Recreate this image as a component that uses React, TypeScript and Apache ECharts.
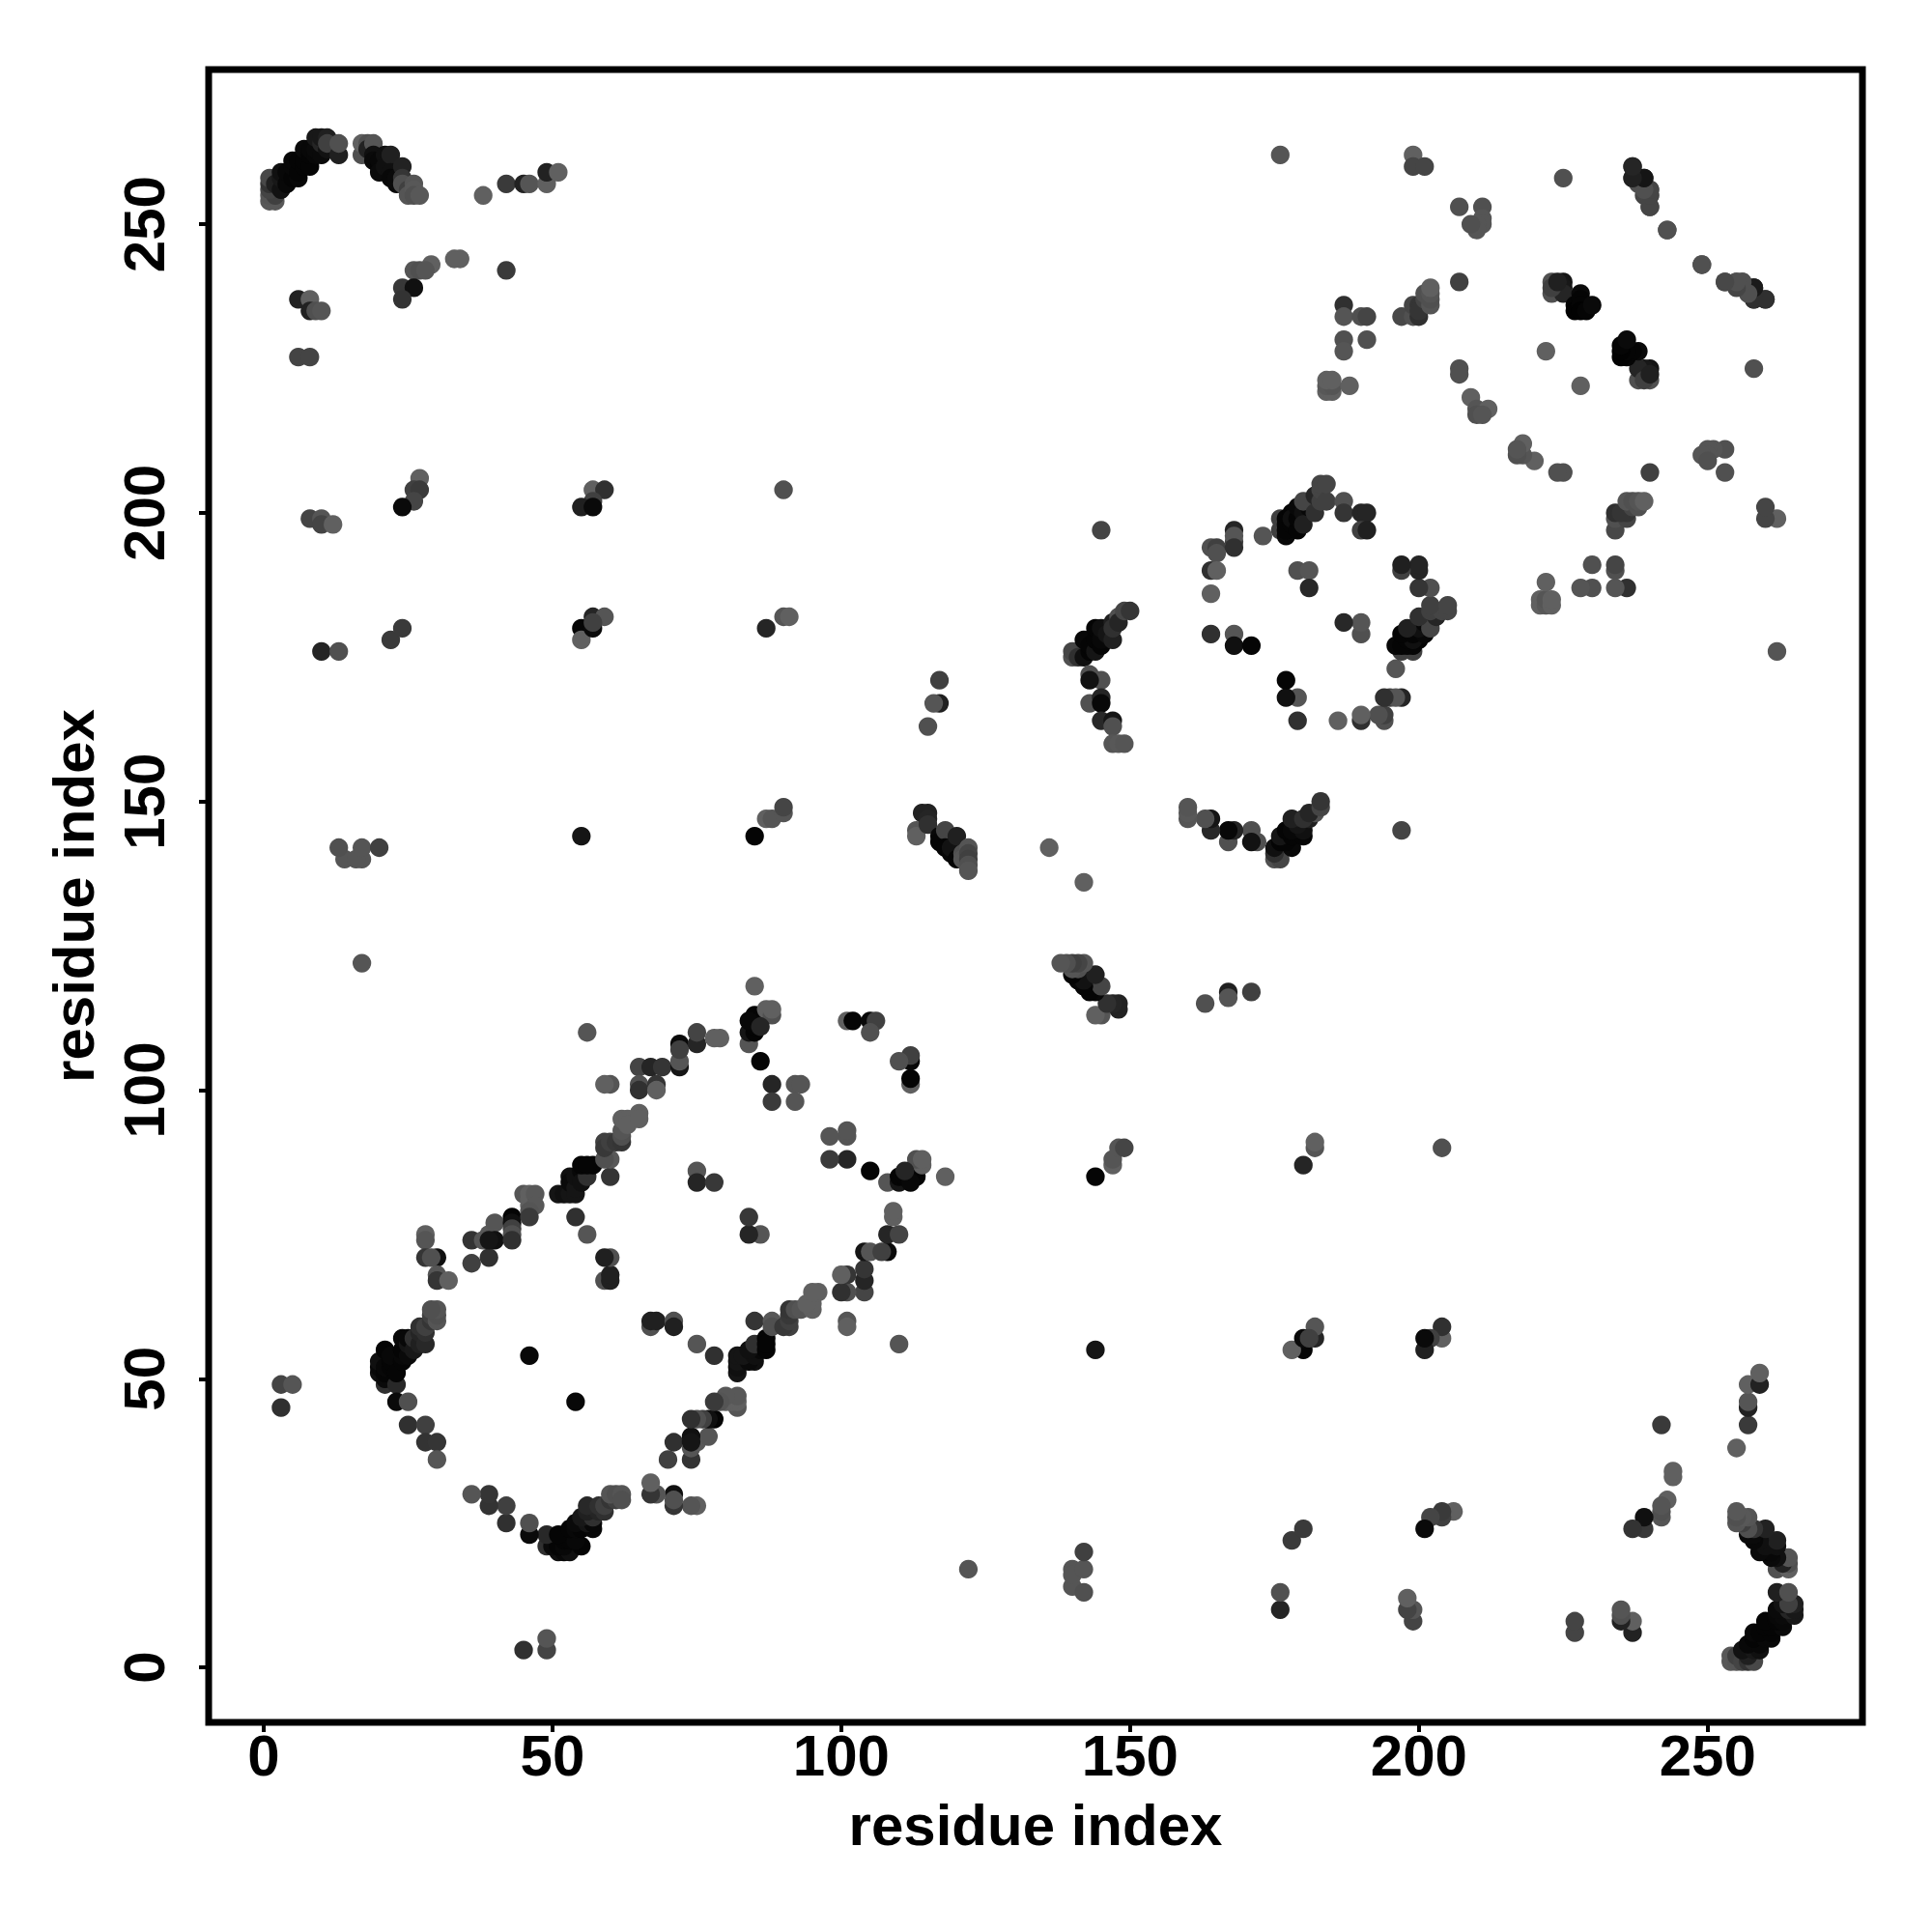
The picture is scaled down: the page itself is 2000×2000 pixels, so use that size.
import React, { useEffect, useRef } from "react";
import * as echarts from "echarts";

// Each contact: [residue i, residue j, grey level (0 = black, 0x66 = lightest)]
const terminalArcStart = [
  [1,254,0x58],[2,254,0x58],[1,255,0x55],[2,255,0x40],[1,256,0x44],[1,257,0x33],[1,258,0x48],[2,257,0x20],
  [3,256,0x12],[3,258,0x18],[3,259,0x10],[4,257,0x08],[4,259,0x08],[5,258,0x05],[5,260,0x08],[5,261,0x08],
  [6,258,0x08],[6,259,0x05],[6,261,0x05],[7,260,0x05],[7,261,0x05],[7,263,0x0a],[8,260,0x05],
  [8,262,0x05],[8,263,0x08],[9,262,0x08],[9,263,0x0a],[9,265,0x18],[10,262,0x0a],
  [10,264,0x25],[10,265,0x18],[11,263,0x12],[11,265,0x20],[11,264,0x40],[13,262,0x20],[13,264,0x50],
];
const terminalArcEnd = [
  [17,262,0x50],[17,264,0x60],[18,264,0x50],[18,263,0x22],[19,264,0x55],[19,262,0x10],[19,261,0x0a],[20,260,0x05],
  [20,261,0x08],[20,259,0x0a],[21,262,0x10],[21,260,0x10],[22,262,0x20],[22,259,0x10],[22,258,0x08],[23,257,0x0a],
  [23,258,0x0a],[24,260,0x22],[24,258,0x35],[24,257,0x50],[25,256,0x40],[25,255,0x55],[26,257,0x55],[26,256,0x58],
  [26,255,0x50],[27,255,0x58],
];
const farContactsHigh = [
  [38,255,0x60],[42,257,0x3a],[45,257,0x22],[46,257,0x55],[49,257,0x60],[49,259,0x22],[51,259,0x60],
  [29,243,0x60],[26,242,0x55],[27,242,0x50],[28,242,0x55],[33,244,0x60],[34,244,0x60],[42,242,0x3a],
  [24,239,0x38],[26,239,0x10],[24,237,0x33],[6,237,0x22],[8,237,0x60],[8,235,0x22],[9,235,0x50],[10,235,0x55],
  [6,227,0x44],[8,227,0x44],
];
const farContacts200 = [
  [27,206,0x60],[26,204,0x40],[27,204,0x3a],[26,202,0x45],[24,201,0x0a],[8,199,0x44],[10,199,0x55],[10,198,0x44],
  [12,198,0x60],[57,204,0x60],[59,204,0x30],[57,202,0x40],[55,201,0x20],[57,201,0x0a],[90,204,0x50],
];
const farContacts180 = [
  [10,176,0x25],[13,176,0x50],[22,178,0x3a],[24,180,0x3a],[55,180,0x05],[55,178,0x60],[57,182,0x25],[59,182,0x55],
  [57,180,0x0a],[57,181,0x40],[87,180,0x25],[90,182,0x55],[91,182,0x60],
];
const farContacts140 = [
  [14,140,0x55],[13,142,0x50],[17,140,0x55],[16,140,0x55],[17,142,0x55],[20,142,0x40],[17,122,0x55],[55,144,0x15],
  [85,144,0x05],[87,147,0x60],[88,147,0x55],[90,148,0x55],[90,149,0x45],[3,45,0x30],[3,49,0x44],[5,49,0x55],
];
const chevronOne = [
  [20,51,0x10],[20,52,0x08],[20,53,0x10],[21,49,0x30],[21,50,0x0a],[21,51,0x05],[21,52,0x08],[21,55,0x05],
  [22,52,0x05],[22,53,0x05],[22,54,0x08],[23,49,0x28],[23,51,0x05],[23,46,0x0a],[24,53,0x05],[24,54,0x08],
  [24,55,0x05],[24,57,0x08],[25,54,0x0a],[25,56,0x15],[25,57,0x08],[26,55,0x18],[26,57,0x30],[27,56,0x20],
  [27,58,0x25],[27,59,0x30],[28,56,0x28],[28,58,0x30],[28,59,0x40],[29,60,0x35],[29,61,0x40],[30,60,0x55],
  [30,61,0x50],[30,62,0x55],[29,62,0x50],[25,46,0x50],[25,42,0x30],[28,42,0x40],[28,39,0x33],[30,39,0x35],[30,36,0x55],
  [28,75,0x60],[28,74,0x55],[28,71,0x35],[30,71,0x10],[29,71,0x50],[30,68,0x55],[30,67,0x35],[32,67,0x60],
];
const strandUpperOne = [
  [36,74,0x33],[36,70,0x40],[39,71,0x30],[38,74,0x55],[39,75,0x58],[40,77,0x55],[40,74,0x10],[39,74,0x15],[43,78,0x05],[43,77,0x10],
  [43,76,0x40],[43,75,0x50],[43,74,0x30],[45,82,0x55],[46,82,0x60],[46,81,0x60],[46,80,0x60],[47,82,0x58],[47,80,0x58],[46,79,0x55],[46,78,0x3a],
  [51,82,0x15],[52,82,0x10],[53,82,0x15],[54,82,0x15],[53,85,0x10],[53,84,0x0a],[54,83,0x15],[54,85,0x10],[55,86,0x08],[55,84,0x10],[56,85,0x30],
  [57,87,0x05],[55,87,0x05],[56,87,0x05],[60,85,0x35],[60,88,0x58],[59,88,0x50],[59,91,0x40],[59,90,0x38],[60,91,0x40],[61,91,0x38],[62,91,0x35],
  [62,92,0x50],[62,93,0x55],[62,95,0x60],[63,95,0x60],[63,94,0x60],[65,96,0x60],[65,95,0x60],
];
const strandUpperTwo = [
  [60,101,0x55],[59,101,0x60],[65,104,0x45],[65,101,0x50],[65,100,0x30],[68,101,0x35],[68,100,0x60],[67,104,0x25],
  [69,104,0x35],[72,104,0x15],[72,105,0x55],[72,108,0x0a],[72,107,0x40],[75,108,0x25],[75,110,0x44],[78,109,0x60],
  [79,109,0x60],[84,108,0x55],[84,110,0x15],[85,113,0x05],[85,110,0x05],[85,111,0x05],[84,112,0x08],[87,114,0x60],[88,113,0x50],[88,114,0x60],
  [86,111,0x25],[85,118,0x60],[86,105,0x05],[88,101,0x25],[92,101,0x55],[93,101,0x55],[88,98,0x3a],[92,98,0x55],
  [101,112,0x60],[102,112,0x05],[105,112,0x08],[106,112,0x40],[105,110,0x50],
];
const strandInterior = [
  [75,86,0x55],[75,84,0x25],[78,84,0x38],[56,110,0x55],[54,78,0x30],[56,75,0x55],[59,67,0x50],[60,67,0x20],
  [60,68,0x20],[60,71,0x50],[59,71,0x20],[46,54,0x08],
];
const ringNearDiagonal = [
  [113,145,0x55],[113,144,0x60],[114,148,0x22],[115,148,0x22],[115,147,0x25],[115,146,0x30],[117,144,0x08],[117,143,0x05],
  [118,145,0x45],[118,142,0x05],[119,141,0x08],[119,142,0x12],[120,144,0x20],[120,140,0x05],[121,141,0x50],[121,140,0x55],
  [122,142,0x55],[122,141,0x45],[122,140,0x40],[122,139,0x50],[122,138,0x55],[117,171,0x40],[117,167,0x20],[116,167,0x55],
  [115,163,0x50],[136,142,0x60],[145,197,0x45],
];
const secondClusterLeft = [
  [140,175,0x50],[140,176,0x45],[141,175,0x30],[142,175,0x10],[142,178,0x08],[143,176,0x05],[143,177,0x05],[144,176,0x15],
  [144,178,0x05],[144,180,0x05],[145,177,0x05],[145,178,0x08],[145,180,0x10],[146,179,0x15],[147,178,0x20],[147,181,0x20],
  [147,180,0x30],[148,182,0x50],[148,181,0x25],[149,183,0x45],[150,183,0x35],[143,172,0x50],[145,171,0x50],[143,171,0x12],
  [143,167,0x50],[145,168,0x25],[145,167,0x08],[145,164,0x28],[147,164,0x15],[147,163,0x50],[147,160,0x55],[148,160,0x58],[149,160,0x55],
];
const ringTwoChevron = [
  [164,194,0x50],[165,194,0x40],[165,193,0x50],[164,190,0x30],[165,190,0x60],[164,186,0x60],[164,179,0x30],[168,179,0x55],
  [168,177,0x10],[171,177,0x05],[168,197,0x25],[168,195,0x40],[168,196,0x55],[168,194,0x30],[173,196,0x55],
  [176,197,0x40],[176,199,0x40],[177,196,0x08],[177,198,0x08],[177,199,0x05],[177,197,0x05],[178,198,0x05],[178,200,0x05],
  [178,199,0x10],[179,197,0x05],[179,199,0x05],[179,201,0x08],[180,200,0x10],[180,198,0x20],[181,201,0x08],[180,202,0x45],
  [182,200,0x30],[182,203,0x25],[183,202,0x40],[183,204,0x45],[183,205,0x45],[184,202,0x40],[184,205,0x45],
  [187,202,0x50],[187,200,0x35],[190,200,0x25],[191,200,0x25],[190,197,0x40],[191,197,0x20],[179,190,0x50],[181,190,0x55],[181,187,0x28],
];
const topRightScatter = [
  [176,262,0x55],[199,262,0x60],[199,260,0x45],[201,260,0x45],[225,258,0x50],[237,260,0x30],[237,258,0x30],[239,258,0x1a],
  [238,257,0x50],[240,256,0x50],[239,255,0x45],[240,255,0x50],[240,253,0x48],[243,249,0x50],[249,243,0x50],[253,240,0x45],
  [255,240,0x45],[256,240,0x45],[256,239,0x50],[258,239,0x15],[258,237,0x20],[260,237,0x25],[207,253,0x50],[211,253,0x50],
  [211,251,0x55],[211,250,0x55],[210,250,0x55],[210,249,0x55],[209,250,0x50],[207,240,0x40],[207,225,0x50],[207,224,0x50],
  [209,220,0x60],[210,218,0x55],[212,218,0x60],[210,217,0x50],[211,217,0x55],[222,228,0x60],
];
const topRightBlocks = [
  [187,236,0x30],[187,234,0x55],[190,234,0x50],[191,234,0x45],[187,230,0x50],[191,230,0x50],[187,228,0x55],
  [184,221,0x60],[185,221,0x60],[184,222,0x58],[185,222,0x55],[184,223,0x60],[185,223,0x60],[188,222,0x60],
  [197,234,0x48],[199,234,0x50],[200,234,0x30],[199,236,0x45],[200,236,0x35],[200,235,0x35],[201,237,0x45],[201,238,0x50],
  [202,236,0x55],[202,237,0x50],[202,238,0x55],[202,239,0x60],
  [223,240,0x50],[223,238,0x50],[225,240,0x15],[225,239,0x18],[225,238,0x25],[227,236,0x05],[227,235,0x02],[228,238,0x0a],
  [228,237,0x05],[228,236,0x05],[228,235,0x02],[229,235,0x05],[230,236,0x0a],[223,239,0x40],[224,240,0x20],
];

const contacts = [
  ...terminalArcStart, ...terminalArcEnd, ...farContactsHigh, ...farContacts200, ...farContacts180, ...farContacts140,
  ...chevronOne, ...strandUpperOne, ...strandUpperTwo, ...strandInterior, ...ringNearDiagonal, ...secondClusterLeft,
  ...ringTwoChevron, ...topRightScatter, ...topRightBlocks,
];
const tickValues = [0, 50, 100, 150, 200, 250];
const axisTitle = "residue index";

export default function App() {
  const ref = useRef<HTMLDivElement>(null);
  useEffect(() => {
    const chart = echarts.init(ref.current!, undefined, { renderer: "svg" });
    const points: number[][] = [];
    for (const [i, j, g] of contacts) points.push([i, j, g]);
    for (const [i, j, g] of contacts) points.push([j, i, g]);
    const font = "Liberation Sans";
    const makeAxis = (extra: any) => ({
      type: "value",
      min: -9.53,
      max: 276.8,
      splitLine: { show: false },
      axisLine: { show: false, onZero: false },
      axisTick: { show: true, length: 10, customValues: tickValues, lineStyle: { color: "#000", width: 4 } },
      name: axisTitle,
      nameLocation: "middle",
      nameTextStyle: { fontFamily: font, fontWeight: "bold", fontSize: 60, color: "#000" },
      ...extra,
    });
    chart.setOption({
      animation: false,
      backgroundColor: "#fff",
      grid: { left: 216, top: 72, width: 1712, height: 1711, show: true, borderColor: "#000", borderWidth: 7, backgroundColor: "transparent" },
      visualMap: { show: false, type: "continuous", dimension: 2, min: 0, max: 0x66, inRange: { color: ["#000000", "#666666"] } },
      xAxis: makeAxis({
        nameGap: 76,
        axisLabel: { customValues: tickValues, margin: 4, fontFamily: font, fontWeight: "bold", fontSize: 60, color: "#000" },
      }),
      yAxis: makeAxis({
        nameGap: 110,
        axisLabel: { customValues: tickValues, rotate: 90, margin: 37, fontFamily: font, fontWeight: "bold", fontSize: 60, color: "#000", align: "center", verticalAlign: "bottom" },
      }),
      series: [{ type: "scatter", data: points, symbol: "circle", symbolSize: 19.3, itemStyle: { opacity: 1 }, silent: true }],
    });
    return () => chart.dispose();
  }, []);
  return <div ref={ref} style={{ position: "absolute", left: 0, top: 0, width: 2000, height: 2000 }} />;
}
